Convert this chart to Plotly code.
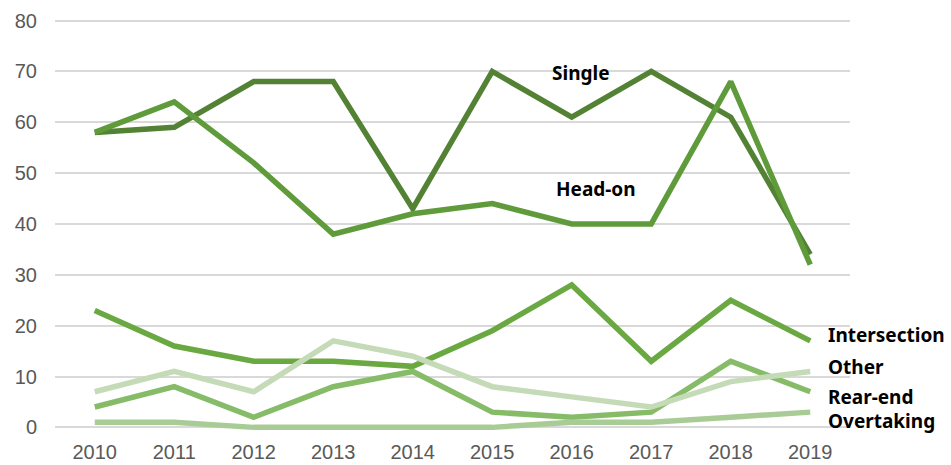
import plotly.graph_objects as go

years = ["2010", "2011", "2012", "2013", "2014", "2015", "2016", "2017", "2018", "2019"]
single = [58, 59, 68, 68, 43, 70, 61, 70, 61, 34]
head_on = [58, 64, 52, 38, 42, 44, 40, 40, 68, 32]
intersection = [23, 16, 13, 13, 12, 19, 28, 13, 25, 17]
rear_end = [4, 8, 2, 8, 11, 3, 2, 3, 13, 7]
overtaking = [1, 1, 0, 0, 0, 0, 1, 1, 2, 3]
other = [7, 11, 7, 17, 14, 8, 6, 4, 9, 11]

series = [
    ("Single", single, "#548235"),
    ("Head-on", head_on, "#5f9b3a"),
    ("Intersection", intersection, "#6aa842"),
    ("Rear-end", rear_end, "#86bb68"),
    ("Overtaking", overtaking, "#a9cc96"),
    ("Other", other, "#c5dbb8"),
]

fig = go.Figure()
xi = list(range(len(years)))
for name, vals, col in series:
    fig.add_trace(go.Scatter(x=xi, y=vals, mode="lines", name=name,
                             line=dict(color=col, width=5.5), showlegend=False))

lab_font = dict(family="Noto Sans", size=19, color="#000000")
# (text, x, y, anchor)
labels = [
    ("<b>Single</b>", 6.12, 69.6, "center"),
    ("<b>Head-on</b>", 6.30, 46.8, "center"),
    ("<b>Intersection</b>", 9.21, 18.1, "left"),
    ("<b>Other</b>", 9.21, 11.85, "left"),
    ("<b>Rear-end</b>", 9.21, 5.9, "left"),
    ("<b>Overtaking</b>", 9.21, 1.3, "left"),
]
for t, x, y, a in labels:
    fig.add_annotation(x=x, y=y, text=t, showarrow=False, xanchor=a, yanchor="middle",
                       font=lab_font, borderpad=0)

fig.update_layout(
    width=951, height=465,
    margin=dict(l=55, r=101, t=17.5, b=30.4, autoexpand=False),
    paper_bgcolor="white", plot_bgcolor="white",
    xaxis=dict(tickmode="array", tickvals=xi, ticktext=years, range=[-0.5, 9.5],
               showgrid=False, zeroline=False, showline=False, automargin=False,
               tickfont=dict(family="Liberation Sans", size=20, color="#595959"),
               ticks="", ticklabelstandoff=3),
    yaxis=dict(range=[-1.5, 80.5], tickvals=[0, 10, 20, 30, 40, 50, 60, 70, 80],
               showgrid=True, gridcolor="#d9d9d9", gridwidth=1.5, automargin=False,
               zeroline=True, zerolinecolor="#d9d9d9", zerolinewidth=1.5,
               showline=False, ticks="",
               tickfont=dict(family="Liberation Sans", size=20, color="#595959"),
               ticklabelstandoff=17),
)

fig.write_html("out.html", config={"displayModeBar": False},
               post_script="document.body.style.margin='0';document.body.style.overflow='hidden';")
